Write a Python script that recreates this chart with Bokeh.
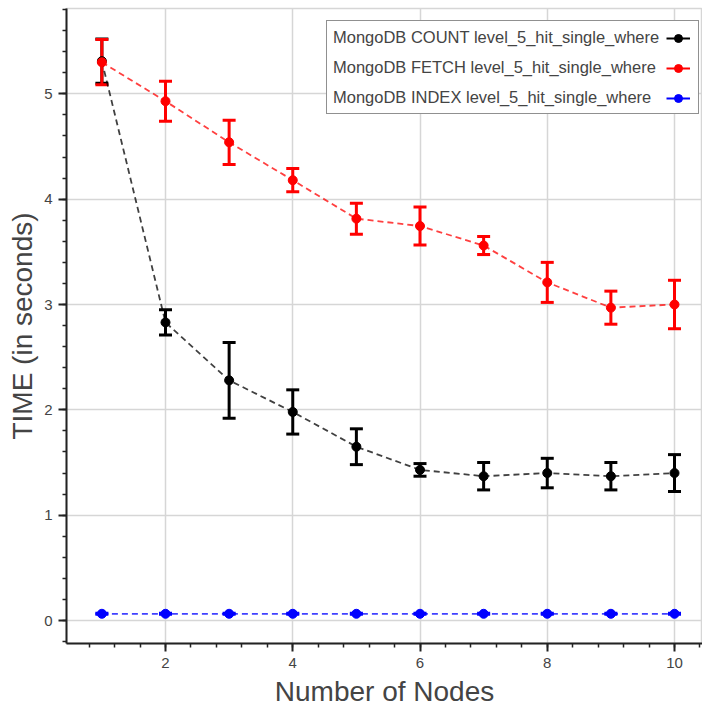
from bokeh.plotting import figure
from bokeh.models import ColumnDataSource, Whisker, TeeHead, Range1d, Legend, LegendItem
from bokeh.embed import file_html
from bokeh.resources import INLINE

# Mean query time (seconds) and spread per cluster size
nodes = [1, 2, 3, 4, 5, 6, 7, 8, 9, 10]

count_time = [5.31, 2.83, 2.28, 1.98, 1.65, 1.43, 1.37, 1.40, 1.37, 1.40]
count_err = [0.21, 0.12, 0.36, 0.21, 0.17, 0.06, 0.13, 0.14, 0.13, 0.175]

fetch_time = [5.30, 4.93, 4.54, 4.18, 3.815, 3.745, 3.56, 3.21, 2.97, 3.00]
fetch_err = [0.215, 0.19, 0.21, 0.11, 0.147, 0.18, 0.086, 0.19, 0.157, 0.23]

index_time = [0.064, 0.064, 0.064, 0.064, 0.064, 0.064, 0.064, 0.064, 0.064, 0.064]
index_err = [0.004, 0.004, 0.004, 0.004, 0.004, 0.004, 0.004, 0.004, 0.004, 0.004]

series_labels = [
    "MongoDB COUNT level_5_hit_single_where",
    "MongoDB FETCH level_5_hit_single_where",
    "MongoDB INDEX level_5_hit_single_where",
]
series_colors = ["black", "red", "blue"]

FONT = "Liberation Sans"
TEXT = "#444444"
GRID = "#d6d6d6"

p = figure(
    width=702, height=711,
    output_backend="svg", toolbar_location=None,
    x_range=Range1d(0.444, 10.44), y_range=Range1d(-0.218, 5.81),
    min_border_left=66, min_border_right=0, min_border_top=8, min_border_bottom=68,
)
p.background_fill_color = "white"
p.border_fill_color = "white"
p.outline_line_color = GRID
p.outline_line_width = 1.5

for ax in (p.xaxis, p.yaxis):
    ax.axis_line_color = "#222222"
    ax.axis_line_width = 2
    ax.major_tick_line_color = "#222222"
    ax.major_tick_line_width = 2
    ax.minor_tick_line_color = "#222222"
    ax.minor_tick_line_width = 1.5
    ax.major_tick_out = 8
    ax.major_tick_in = 0
    ax.minor_tick_out = 4
    ax.minor_tick_in = 0
    ax.major_label_text_font = FONT
    ax.major_label_text_font_size = "15px"
    ax.major_label_text_color = TEXT
    ax.axis_label_text_font = FONT
    ax.axis_label_text_font_style = "normal"
    ax.axis_label_text_color = TEXT
    ax.axis_label_text_font_size = "28px"

p.xaxis.axis_label = "Number of Nodes"
p.yaxis.axis_label = "TIME (in seconds)"
p.xaxis.major_label_standoff = 6
p.yaxis.major_label_standoff = 6
p.xaxis.axis_label_standoff = 5
p.yaxis.axis_label_standoff = 3

p.grid.grid_line_color = GRID
p.grid.grid_line_width = 1.5

text_items = []
glyph_items = []
for times, errs, color, label in zip(
    [count_time, fetch_time, index_time],
    [count_err, fetch_err, index_err],
    series_colors, series_labels,
):
    src = ColumnDataSource(dict(
        x=nodes, y=times,
        upper=[t + e for t, e in zip(times, errs)],
        lower=[t - e for t, e in zip(times, errs)],
    ))
    p.line("x", "y", source=src, line_color=color, line_width=1.8,
           line_dash="6 4", line_alpha=0.75)
    p.add_layout(Whisker(
        base="x", upper="upper", lower="lower", source=src,
        line_color=color, line_width=3,
        upper_head=TeeHead(size=13, line_color=color, line_width=3),
        lower_head=TeeHead(size=13, line_color=color, line_width=3),
    ))
    dots = p.scatter("x", "y", source=src, size=9, fill_color=color, line_color=color)
    # solid, hidden copy of the series used only for the legend swatch
    swatch = p.line("x", "y", source=src, line_color=color, line_width=2, visible=False)
    text_items.append(LegendItem(label=label, renderers=[]))
    glyph_items.append(LegendItem(label="", renderers=[swatch, dots]))

# legend box holding the series names
names_legend = Legend(
    items=text_items, location=(260, 529),
    glyph_width=0, glyph_height=20, label_standoff=0, label_width=359, label_height=20,
    padding=6, spacing=10, margin=0,
    label_text_font=FONT, label_text_font_size="16.5px", label_text_color=TEXT,
    border_line_color="#222222", border_line_width=1.5,
    background_fill_color="white", background_fill_alpha=1,
)
# swatches placed at the right-hand end of each legend row
swatch_legend = Legend(
    items=glyph_items, location=(594, 529),
    glyph_width=24, glyph_height=20, label_standoff=0, label_width=0, label_height=20,
    padding=6, spacing=10, margin=0,
    border_line_alpha=0, background_fill_alpha=0,
)
p.add_layout(names_legend)
p.add_layout(swatch_legend)

open("out.html", "w").write(file_html(p, INLINE))
